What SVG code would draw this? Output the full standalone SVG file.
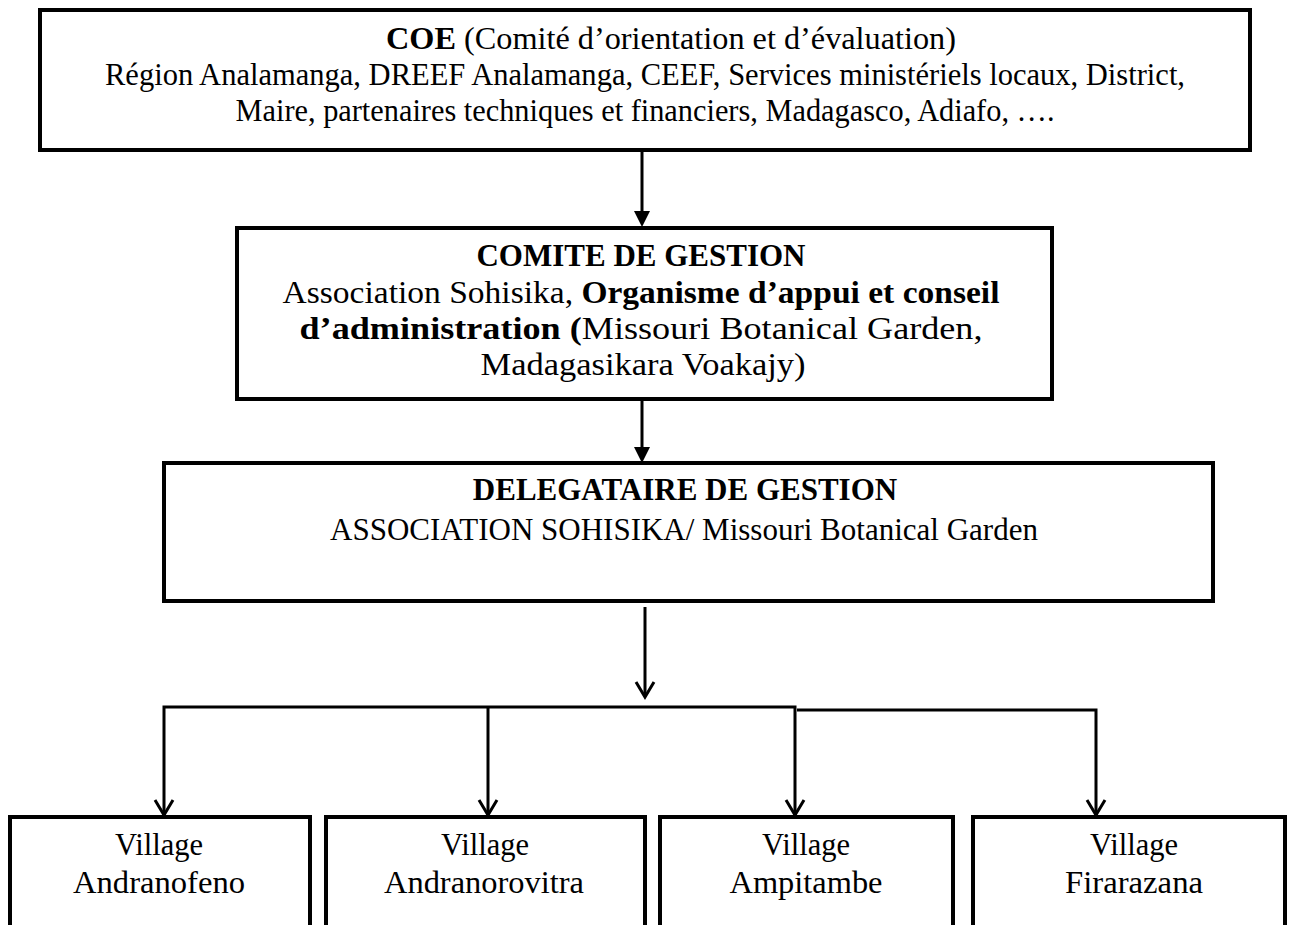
<svg xmlns="http://www.w3.org/2000/svg" width="1289" height="925" viewBox="0 0 1289 925">
<defs>
<style>
.box{fill:#fff;stroke:#000;stroke-width:4}
.t{font-family:"Liberation Serif","Times New Roman",serif;font-size:31px;fill:#000;text-anchor:middle}
.b{font-weight:bold}
.c{fill:none;stroke:#000;stroke-width:3}
</style>
</defs>
<rect width="1289" height="925" fill="#fff"/>
<g id="coe">
<rect class="box" x="40" y="10" width="1210" height="140"/>
<text class="t" x="671" y="49" textLength="570" lengthAdjust="spacingAndGlyphs"><tspan class="b">COE</tspan> (Comité d’orientation et d’évaluation)</text>
<text class="t" x="645" y="85" textLength="1080" lengthAdjust="spacingAndGlyphs">Région Analamanga, DREEF Analamanga, CEEF, Services ministériels locaux, District,</text>
<text class="t" x="645" y="121" textLength="819" lengthAdjust="spacingAndGlyphs">Maire, partenaires techniques et financiers, Madagasco, Adiafo, ….</text>
</g>
<g id="comite">
<rect class="box" x="237" y="228" width="815" height="171"/>
<text class="t b" x="641" y="266">COMITE DE GESTION</text>
<text class="t" x="641" y="303" textLength="717" lengthAdjust="spacingAndGlyphs">Association Sohisika, <tspan class="b">Organisme d’appui et conseil</tspan></text>
<text class="t" x="641" y="339" textLength="683" lengthAdjust="spacingAndGlyphs"><tspan class="b">d’administration (</tspan>Missouri Botanical Garden,</text>
<text class="t" x="643" y="375" textLength="325" lengthAdjust="spacingAndGlyphs">Madagasikara Voakajy)</text>
</g>
<g id="delegataire">
<rect class="box" x="164" y="463" width="1049" height="138"/>
<text class="t b" x="685" y="500">DELEGATAIRE DE GESTION</text>
<text class="t" x="684" y="540">ASSOCIATION SOHISIKA/ Missouri Botanical Garden</text>
</g>
<g id="v1">
<rect class="box" x="10" y="817" width="300" height="130"/>
<text class="t" x="159" y="855" textLength="88" lengthAdjust="spacingAndGlyphs">Village</text>
<text class="t" x="159" y="893" textLength="172" lengthAdjust="spacingAndGlyphs">Andranofeno</text>
</g>
<g id="v2">
<rect class="box" x="326" y="817" width="319" height="130"/>
<text class="t" x="485" y="855" textLength="88" lengthAdjust="spacingAndGlyphs">Village</text>
<text class="t" x="484" y="893" textLength="200" lengthAdjust="spacingAndGlyphs">Andranorovitra</text>
</g>
<g id="v3">
<rect class="box" x="660" y="817" width="293" height="130"/>
<text class="t" x="806" y="855" textLength="88" lengthAdjust="spacingAndGlyphs">Village</text>
<text class="t" x="806" y="893" textLength="153" lengthAdjust="spacingAndGlyphs">Ampitambe</text>
</g>
<g id="v4">
<rect class="box" x="973" y="817" width="312" height="130"/>
<text class="t" x="1134" y="855" textLength="88" lengthAdjust="spacingAndGlyphs">Village</text>
<text class="t" x="1134" y="893" textLength="138" lengthAdjust="spacingAndGlyphs">Firarazana</text>
</g>
<g id="connectors">
<line x1="642" y1="152" x2="642" y2="212" class="c"/>
<path d="M634,211 L650,211 L642,227 Z" fill="#000"/>
<line x1="642" y1="401" x2="642" y2="448" class="c"/>
<path d="M634,447 L650,447 L642,463 Z" fill="#000"/>
<line x1="645" y1="607" x2="645" y2="696" class="c"/>
<polyline points="636,682 645,697 654,682" class="c"/>
<polyline points="164,815 164,707 795,707 795,815" class="c"/>
<line x1="488" y1="707" x2="488" y2="815" class="c"/>
<polyline points="797,710 1096,710 1096,815" class="c"/>
<polyline points="155,800 164,815 173,800" class="c"/>
<polyline points="479,800 488,815 497,800" class="c"/>
<polyline points="786,800 795,815 804,800" class="c"/>
<polyline points="1087,800 1096,815 1105,800" class="c"/>
</g>
</svg>
